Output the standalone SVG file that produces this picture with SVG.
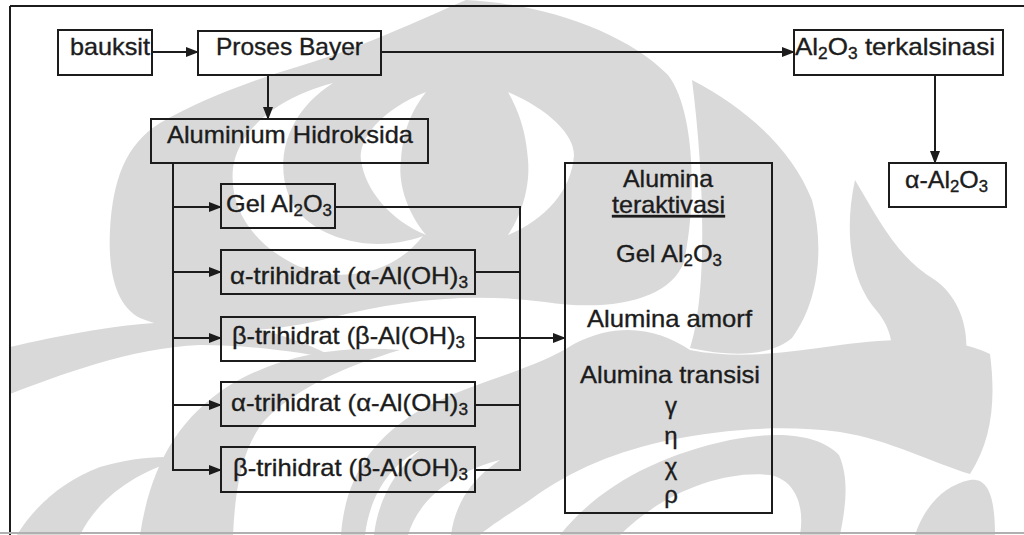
<svg xmlns="http://www.w3.org/2000/svg" width="1024" height="535" viewBox="0 0 1024 535">
<style>
.box{fill:none;stroke:#1c1c1c;stroke-width:2}
.t{font-family:"Liberation Sans",Arial,sans-serif;font-size:24px;fill:#1c1c1c;stroke:#1c1c1c;stroke-width:0.35}
.s{font-size:16px}
.c{fill:none;stroke:#1c1c1c;stroke-width:2}
.wm{fill:#d9d9d9}
.wh{fill:#ffffff}
</style>
<defs>
<marker id="ah" markerWidth="13" markerHeight="10" refX="12" refY="5" orient="auto" markerUnits="userSpaceOnUse">
<path d="M0,0 L13,5 L0,10 Z" fill="#1c1c1c"/>
</marker>
</defs>
<rect width="1024" height="535" fill="#ffffff"/>

<g id="watermark">
<path class="wm" d="M466,0 C545,4 625,32 668,75 C695,110 697,200 684,262 C670,300 610,312 545,302 C470,292 400,300 330,318 C260,336 180,335 140,318 C115,305 108,270 110,230 C113,180 125,145 160,123 C200,100 253,80 300,66 C360,48 420,20 466,0 Z"/>
<path class="wh" d="M426,92 C380,110 358,140 361,160 C365,190 390,220 426,235 C405,210 398,180 401,160 C403,130 412,110 426,92 Z"/>
<path class="wh" d="M508,92 C550,110 574,135 574,155 C572,190 545,220 508,235 C525,210 530,180 528,160 C526,130 518,110 508,92 Z"/>
<path class="wh" d="M333,83 C275,98 238,132 233,168 C229,208 252,244 298,266 C345,285 395,272 423,236 C380,252 330,243 302,216 C274,188 272,122 333,83 Z"/>
<path class="wm" d="M692,80 C749,110 792,150 812,200 C824,245 820,300 792,338 C768,358 728,356 690,348 C706,300 706,190 692,80 Z"/>
<path class="wm" d="M855,180 C880,222 898,258 935,280 C966,302 976,350 956,386 C936,416 896,422 862,410 C896,380 902,340 876,310 C850,280 844,230 855,180 Z"/>
<path class="wm" d="M10,347 C60,336 130,320 200,322 C260,324 300,340 340,360 C300,352 250,345 200,345 C130,348 60,375 10,394 Z"/>
<path class="wm" d="M140,535 C150,470 175,420 230,385 C280,355 340,345 400,350 C350,365 300,385 265,420 C240,450 235,495 233,535 Z"/>
<path class="wm" d="M17,535 C35,505 65,480 100,467 C130,458 160,455 185,458 C140,470 100,495 80,535 Z"/>
<path class="wm" d="M341,535 C345,480 370,440 420,410 C470,382 530,372 574,344 C620,320 660,330 690,350 C740,360 790,352 840,345 C900,338 950,335 990,354 C996,400 992,440 970,474 C930,462 890,440 840,432 C780,424 720,430 670,440 C620,450 570,470 530,500 C500,520 485,530 480,535 L451,535 C455,505 470,480 500,460 C460,470 420,495 408,535 L374,535 C378,500 395,470 420,450 C390,465 370,495 365,535 Z"/>
<path class="wm" d="M560,535 C600,485 660,455 730,440 C780,430 820,435 839,455 C850,480 845,510 840,535 L800,535 C805,505 795,480 770,475 C720,470 660,495 620,535 Z"/>
<path class="wm" d="M915,535 C925,505 945,485 970,480 C985,478 995,490 995,535 Z"/>
</g>

<g id="frame">
<line x1="10" y1="6" x2="1024" y2="6" stroke="#1c1c1c" stroke-width="2"/>
<line x1="10" y1="6" x2="10" y2="535" stroke="#1c1c1c" stroke-width="2"/>
<line x1="0" y1="533" x2="1024" y2="533" stroke="#b0b0b0" stroke-width="2"/>
</g>

<g id="connectors">
<line class="c" x1="152" y1="52" x2="198" y2="52" marker-end="url(#ah)"/>
<line class="c" x1="268" y1="75" x2="268" y2="119" marker-end="url(#ah)"/>
<line class="c" x1="381" y1="52" x2="794" y2="52" marker-end="url(#ah)"/>
<line class="c" x1="935" y1="75" x2="935" y2="163" marker-end="url(#ah)"/>
<polyline class="c" points="173,163 173,470 221,470" marker-end="url(#ah)"/>
<line class="c" x1="173" y1="207" x2="221" y2="207" marker-end="url(#ah)"/>
<line class="c" x1="173" y1="272" x2="221" y2="272" marker-end="url(#ah)"/>
<line class="c" x1="173" y1="338" x2="221" y2="338" marker-end="url(#ah)"/>
<line class="c" x1="173" y1="405" x2="221" y2="405" marker-end="url(#ah)"/>
<polyline class="c" points="335,207 520,207 520,470 475,470"/>
<line class="c" x1="475" y1="272" x2="520" y2="272"/>
<line class="c" x1="475" y1="405" x2="520" y2="405"/>
<line class="c" x1="475" y1="338" x2="565" y2="338" marker-end="url(#ah)"/>
</g>

<g id="bauksit">
<rect class="box" x="58" y="30" width="94" height="45"/>
<text class="t" x="70" y="55" textLength="80" lengthAdjust="spacingAndGlyphs">bauksit</text>
</g>
<g id="proses-bayer">
<rect class="box" x="198" y="31" width="183" height="44"/>
<text class="t" x="216" y="55" textLength="147" lengthAdjust="spacingAndGlyphs">Proses Bayer</text>
</g>
<g id="aluminium-hidroksida">
<rect class="box" x="151" y="119" width="277" height="44"/>
<text class="t" x="167" y="143" textLength="246" lengthAdjust="spacingAndGlyphs">Aluminium Hidroksida</text>
</g>
<g id="al2o3-terkalsinasi">
<rect class="box" x="794" y="30" width="209" height="45"/>
<text class="t" x="795" y="55" textLength="200" lengthAdjust="spacingAndGlyphs">Al<tspan class="s" dy="4">2</tspan><tspan dy="-4">O</tspan><tspan class="s" dy="4">3</tspan><tspan dy="-4"> terkalsinasi</tspan></text>
</g>
<g id="alpha-al2o3">
<rect class="box" x="889" y="163" width="117" height="44"/>
<text class="t" x="905" y="188" textLength="83" lengthAdjust="spacingAndGlyphs">α-Al<tspan class="s" dy="4">2</tspan><tspan dy="-4">O</tspan><tspan class="s" dy="4">3</tspan></text>
</g>
<g id="gel-al2o3">
<rect class="box" x="221" y="184" width="114" height="44"/>
<text class="t" x="226" y="212" textLength="106" lengthAdjust="spacingAndGlyphs">Gel Al<tspan class="s" dy="4">2</tspan><tspan dy="-4">O</tspan><tspan class="s" dy="4">3</tspan></text>
</g>
<g id="alpha-trihidrat-1">
<rect class="box" x="221" y="250" width="254" height="44"/>
<text class="t" x="230" y="284" textLength="238" lengthAdjust="spacingAndGlyphs">α-trihidrat (α-Al(OH)<tspan class="s" dy="4">3</tspan></text>
</g>
<g id="beta-trihidrat-1">
<rect class="box" x="221" y="317" width="254" height="44"/>
<text class="t" x="232" y="344" textLength="233" lengthAdjust="spacingAndGlyphs">β-trihidrat (β-Al(OH)<tspan class="s" dy="4">3</tspan></text>
</g>
<g id="alpha-trihidrat-2">
<rect class="box" x="221" y="382" width="254" height="44"/>
<text class="t" x="231" y="411" textLength="237" lengthAdjust="spacingAndGlyphs">α-trihidrat (α-Al(OH)<tspan class="s" dy="4">3</tspan></text>
</g>
<g id="beta-trihidrat-2">
<rect class="box" x="221" y="447" width="254" height="45"/>
<text class="t" x="233" y="476" textLength="235" lengthAdjust="spacingAndGlyphs">β-trihidrat (β-Al(OH)<tspan class="s" dy="4">3</tspan></text>
</g>
<g id="alumina-teraktivasi">
<rect class="box" x="565" y="163" width="207" height="350"/>
<text class="t" x="623" y="187" textLength="90" lengthAdjust="spacingAndGlyphs">Alumina</text>
<text class="t" x="612" y="213" textLength="113" lengthAdjust="spacingAndGlyphs" text-decoration="underline">teraktivasi</text>
<text class="t" x="616" y="262" textLength="106" lengthAdjust="spacingAndGlyphs">Gel Al<tspan class="s" dy="4">2</tspan><tspan dy="-4">O</tspan><tspan class="s" dy="4">3</tspan></text>
<text class="t" x="587" y="327" textLength="165" lengthAdjust="spacingAndGlyphs">Alumina amorf</text>
<text class="t" x="580" y="383" textLength="180" lengthAdjust="spacingAndGlyphs">Alumina transisi</text>
<text class="t" x="671" y="414" text-anchor="middle">γ</text>
<text class="t" x="671" y="444" text-anchor="middle">η</text>
<text class="t" x="671" y="475" text-anchor="middle">χ</text>
<text class="t" x="671" y="503" text-anchor="middle">ρ</text>
</g>
</svg>
